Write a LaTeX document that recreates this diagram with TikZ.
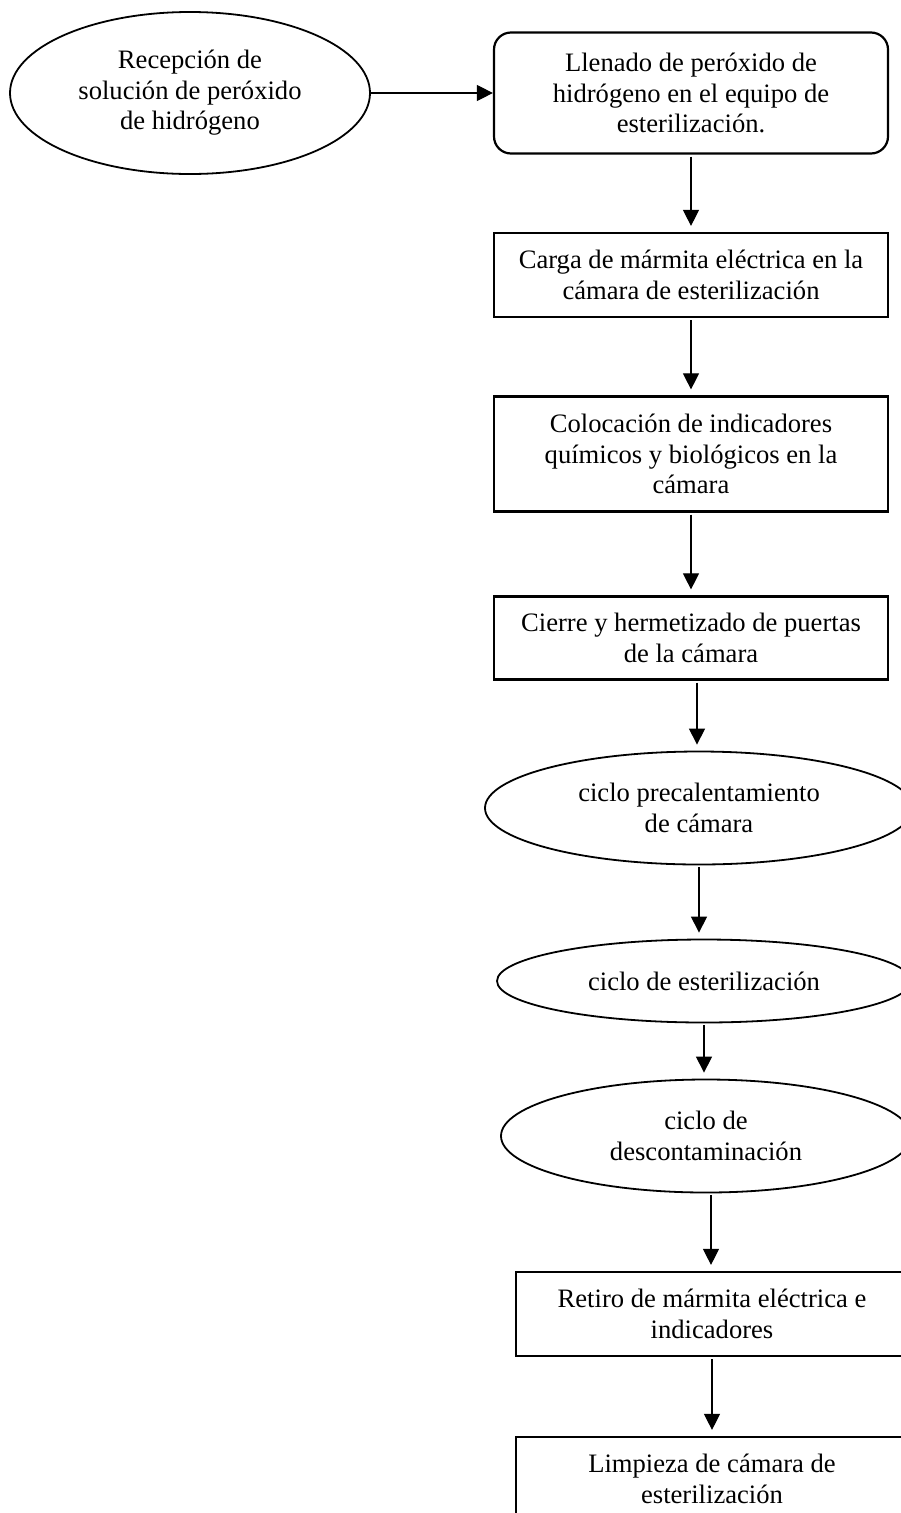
\documentclass[tikz,border=0pt]{standalone}
\usepackage{fontspec}
\setmainfont{Liberation Serif}
\usetikzlibrary{arrows.meta,shapes.geometric}

\begin{document}
\begin{tikzpicture}[x=1pt,y=-1pt,
  font=\fontsize{26.6}{30.6}\selectfont,
  caja/.style={draw,line width=2.2pt,rectangle,align=center,inner sep=0pt,minimum width=394pt},
  cajared/.style={caja,rounded corners=17pt},
  elipse/.style={draw,line width=1.8pt,ellipse,align=center,inner sep=0pt},
  flecha/.style={-{Triangle[width=16pt,length=16pt]},line width=1.1pt,shorten <=2pt,shorten >=6pt}]
  \useasboundingbox (0,0) rectangle (901,1513);
  \clip (0,0) rectangle (901,1513);
  % pasos
  \node[elipse,minimum width=360pt,minimum height=162pt] (recepcion) at (190,93)
    {Recepción de\\solución de peróxido\\de hidrógeno};
  \node[cajared,minimum height=121pt] (llenado) at (691,93)
    {Llenado de peróxido de\\hidrógeno en el equipo de\\esterilización.};
  \node[caja,minimum height=84pt] (carga) at (691,275)
    {Carga de mármita eléctrica en la\\cámara de esterilización};
  \node[caja,minimum height=115pt] (colocacion) at (691,454)
    {Colocación de indicadores\\químicos y biológicos en la\\cámara};
  \node[caja,minimum height=83pt] (cierre) at (691,638)
    {Cierre y hermetizado de puertas\\de la cámara};
  \node[elipse,minimum width=428pt,minimum height=113pt] (precalentamiento) at (699,808)
    {ciclo precalentamiento\\de cámara};
  \node[elipse,minimum width=414pt,minimum height=83pt] (esterilizacion) at (704,981)
    {ciclo de esterilización};
  \node[elipse,minimum width=410pt,minimum height=113pt] (descontaminacion) at (706,1136)
    {ciclo de\\descontaminación};
  \node[caja,minimum width=392pt,minimum height=84pt] (retiro) at (712,1314)
    {Retiro de mármita eléctrica e\\indicadores};
  \node[caja,minimum width=392pt,minimum height=84pt] (limpieza) at (712,1479)
    {Limpieza de cámara de\\esterilización};
  % flechas
  \draw[flecha,shorten <=0pt,shorten >=0pt] (recepcion.east) -- (recepcion.east -| llenado.west);
  \draw[flecha] (llenado.south) -- (carga.north);
  \draw[flecha] (carga.south) -- (colocacion.north);
  \draw[flecha] (colocacion.south) -- (cierre.north);
  \draw[flecha] ([xshift=6pt]cierre.south) -- ([xshift=6pt]cierre.south |- precalentamiento.north);
  \draw[flecha] (precalentamiento.south) -- (precalentamiento.south |- esterilizacion.north);
  \draw[flecha] (esterilizacion.south) -- (esterilizacion.south |- descontaminacion.north);
  \draw[flecha] ([xshift=5pt]descontaminacion.south) -- ([xshift=5pt]descontaminacion.south |- retiro.north);
  \draw[flecha] (retiro.south) -- (limpieza.north);
\end{tikzpicture}
\end{document}
